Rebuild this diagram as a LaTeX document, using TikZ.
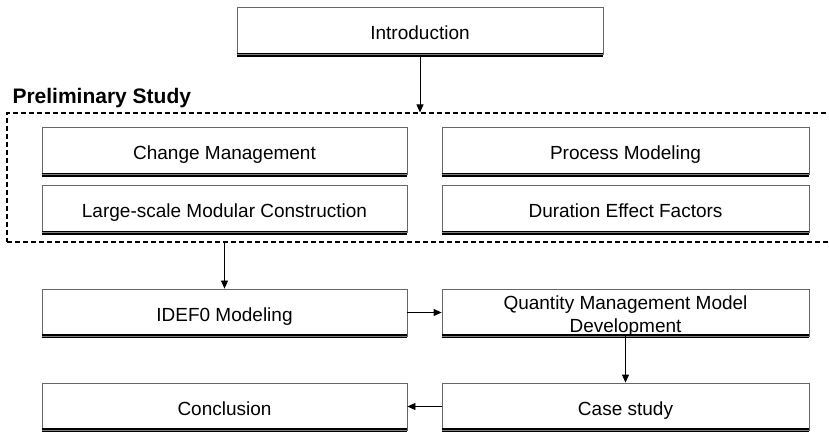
\documentclass[tikz,border=0pt]{standalone}
\usepackage{fontspec}
\setmainfont{Liberation Sans}
\usetikzlibrary{arrows.meta}
\tikzset{
  stagebox/.style={draw=black!60, line width=0.8pt, fill=white, inner sep=0pt,
    minimum width=365pt, minimum height=47pt, align=center,
    text height=17pt, text depth=0pt,
    font=\fontsize{19}{23}\selectfont},
  groupbox/.style={draw, line width=1.1pt, dash pattern=on 5pt off 3pt,
    inner sep=0pt, minimum width=833pt, minimum height=129pt},
  flow/.style={-{Triangle[length=8pt,width=7pt]}, line width=0.8pt},
}
\begin{document}
\begin{tikzpicture}[x=1pt,y=-1pt]
  \useasboundingbox (0,0) rectangle (829,435);
  % preliminary study group
  \node[groupbox] (prelim) at (423.5,177.5) {};
  \node[anchor=west, font=\fontsize{21}{24}\selectfont\bfseries] (prelimlbl) at (9,98) {Preliminary Study};
  % stages
  \node[stagebox] (intro) at (420,31) [minimum width=366pt] {Introduction};
  \node[stagebox] (chg) at (224.5,151) {Change Management};
  \node[stagebox] (lsm) at (224.5,209) {Large-scale Modular Construction};
  \node[stagebox] (proc) at (625.5,151) [minimum width=367pt] {Process Modeling};
  \node[stagebox] (dur) at (625.5,209) [minimum width=367pt] {Duration Effect Factors};
  \node[stagebox] (idef) at (224.5,312.5) {IDEF0 Modeling};
  \node[stagebox] (qty) at (625.5,312.5) [minimum width=367pt, text height=39pt]
    {Quantity Management Model\\Development};
  \node[stagebox] (concl) at (224.5,406.5) {Conclusion};
  \node[stagebox] (case) at (625.5,406.5) [minimum width=367pt] {Case study};
  % heavy bottom edges
  \foreach \n in {intro,chg,lsm,proc,dur,idef,qty,concl,case} {
    \draw[line width=4pt] (\n.south west) -- (\n.south east);
    \draw[line width=1.2pt, black!50] (\n.south west) -- (\n.south east);
  }
  % connectors
  \draw[flow] (intro.south) -- (intro.south |- prelim.north);
  \draw[flow] (idef.north |- prelim.south) -- (idef.north);
  \draw[flow] (idef.east) -- (qty.west);
  \draw[flow] (qty.south) -- (case.north);
  \draw[flow] (case.west) -- (concl.east);
\end{tikzpicture}
\end{document}
